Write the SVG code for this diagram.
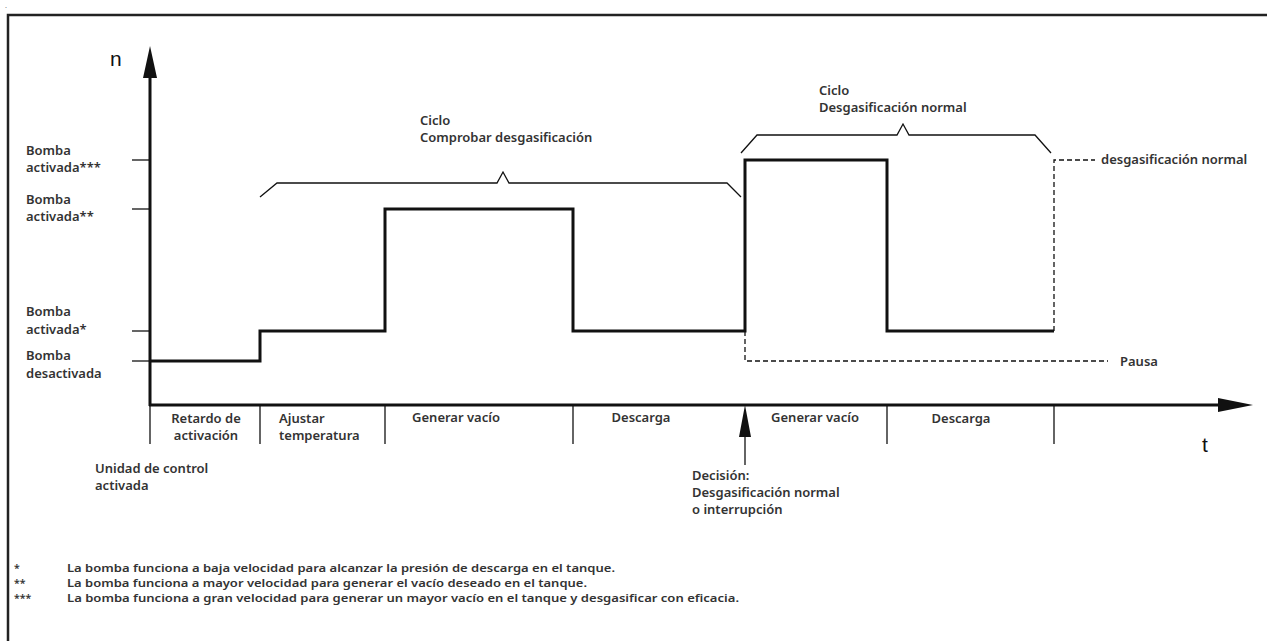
<svg xmlns="http://www.w3.org/2000/svg" width="1267" height="641" viewBox="0 0 1267 641">
<style>
.lbl{font-family:"Noto Sans","Liberation Sans",sans-serif;font-size:13px;font-weight:600;fill:#333}
.fn{font-family:"Noto Sans","Liberation Sans",sans-serif;font-size:10.5px;font-weight:600;fill:#333}
.ax{font-family:"Liberation Sans",Arial,sans-serif;font-size:21px;fill:#111}
.thin{stroke:#111;stroke-width:1.3;fill:none}
.thick{stroke:#111;stroke-width:3;fill:none}
.dash{stroke:#111;stroke-width:1.3;fill:none;stroke-dasharray:5,3}
</style>
<rect width="1267" height="641" fill="#fff"/>
<text x="5" y="8" font-family="Liberation Sans, sans-serif" font-size="7" fill="#333">.</text>
<g id="frame"><path d="M8 641 V15 H1267" stroke="#222" stroke-width="2.5" fill="none"/></g>
<g id="axes">
<line x1="150" y1="75" x2="150" y2="406" class="thick"/>
<polygon points="150,46 143,78 157,78" fill="#111"/>
<line x1="149" y1="405" x2="1222" y2="405" class="thick"/>
<polygon points="1253,405 1218,398 1218,412" fill="#111"/>
<text x="110" y="66" class="ax">n</text>
<text x="1202" y="452" class="ax">t</text>
</g>
<g id="yticks">
<line x1="132" y1="160" x2="150" y2="160" class="thin"/>
<line x1="132" y1="209" x2="150" y2="209" class="thin"/>
<line x1="132" y1="331" x2="150" y2="331" class="thin"/>
<line x1="132" y1="361" x2="150" y2="361" class="thin"/>
</g>
<g id="ylabels">
<text class="lbl" x="26" y="155">Bomba</text><text class="lbl" x="26" y="172">activada***</text>
<text class="lbl" x="26" y="204">Bomba</text><text class="lbl" x="26" y="221">activada**</text>
<text class="lbl" x="26" y="316">Bomba</text><text class="lbl" x="26" y="334">activada*</text>
<text class="lbl" x="26" y="360">Bomba</text><text class="lbl" x="26" y="378">desactivada</text>
</g>
<g id="xticks">
<line x1="150" y1="405" x2="150" y2="444" class="thin"/>
<line x1="260" y1="405" x2="260" y2="444" class="thin"/>
<line x1="385" y1="405" x2="385" y2="444" class="thin"/>
<line x1="573" y1="405" x2="573" y2="444" class="thin"/>
<line x1="887" y1="405" x2="887" y2="444" class="thin"/>
<line x1="1054" y1="405" x2="1054" y2="444" class="thin"/>
</g>
<g id="phases">
<text class="lbl" x="206" y="423" text-anchor="middle">Retardo de</text>
<text class="lbl" x="206" y="440" text-anchor="middle">activación</text>
<text class="lbl" x="279" y="423">Ajustar</text>
<text class="lbl" x="279" y="440">temperatura</text>
<text class="lbl" x="456" y="422" text-anchor="middle">Generar vacío</text>
<text class="lbl" x="641" y="422" text-anchor="middle">Descarga</text>
<text class="lbl" x="815" y="422" text-anchor="middle">Generar vacío</text>
<text class="lbl" x="961" y="423" text-anchor="middle">Descarga</text>
</g>
<g id="signal">
<path d="M150 361 H260 V331 H385 V209 H573 V331 H745 V160 H887 V331 H1054" class="thick" stroke-linejoin="miter"/>
</g>
<g id="connectors">
<path d="M1054 331 V160 H1095" class="dash"/>
<path d="M745 331 V361 H1108" class="dash"/>
<line x1="745" y1="430" x2="745" y2="465" class="thin"/>
<polygon points="745,405 739,437 751,437" fill="#111"/>
<path d="M260 197 L277 183 H497 L503 172 L509 183 H727 L741 197" class="thin"/>
<path d="M741 153 L757 135 H897 L903 124 L909 135 H1035 L1051 153" class="thin"/>
</g>
<g id="notes">
<text class="lbl" x="420" y="125">Ciclo</text>
<text class="lbl" x="420" y="142">Comprobar desgasificación</text>
<text class="lbl" x="819" y="95">Ciclo</text>
<text class="lbl" x="819" y="112">Desgasificación normal</text>
<text class="lbl" x="1101" y="164">desgasificación normal</text>
<text class="lbl" x="1120" y="366">Pausa</text>
<text class="lbl" x="95" y="473">Unidad de control</text>
<text class="lbl" x="95" y="490">activada</text>
<text class="lbl" x="692" y="480">Decisión:</text>
<text class="lbl" x="692" y="497">Desgasificación normal</text>
<text class="lbl" x="692" y="514">o interrupción</text>
</g>
<g id="footnotes">
<text class="fn" x="14" y="572">*</text>
<text class="fn" x="67" y="572" textLength="548" lengthAdjust="spacingAndGlyphs">La bomba funciona a baja velocidad para alcanzar la presión de descarga en el tanque.</text>
<text class="fn" x="14" y="587">**</text>
<text class="fn" x="67" y="587" textLength="520" lengthAdjust="spacingAndGlyphs">La bomba funciona a mayor velocidad para generar el vacío deseado en el tanque.</text>
<text class="fn" x="14" y="602">***</text>
<text class="fn" x="67" y="602" textLength="672" lengthAdjust="spacingAndGlyphs">La bomba funciona a gran velocidad para generar un mayor vacío en el tanque y desgasificar con eficacia.</text>
</g>
</svg>
